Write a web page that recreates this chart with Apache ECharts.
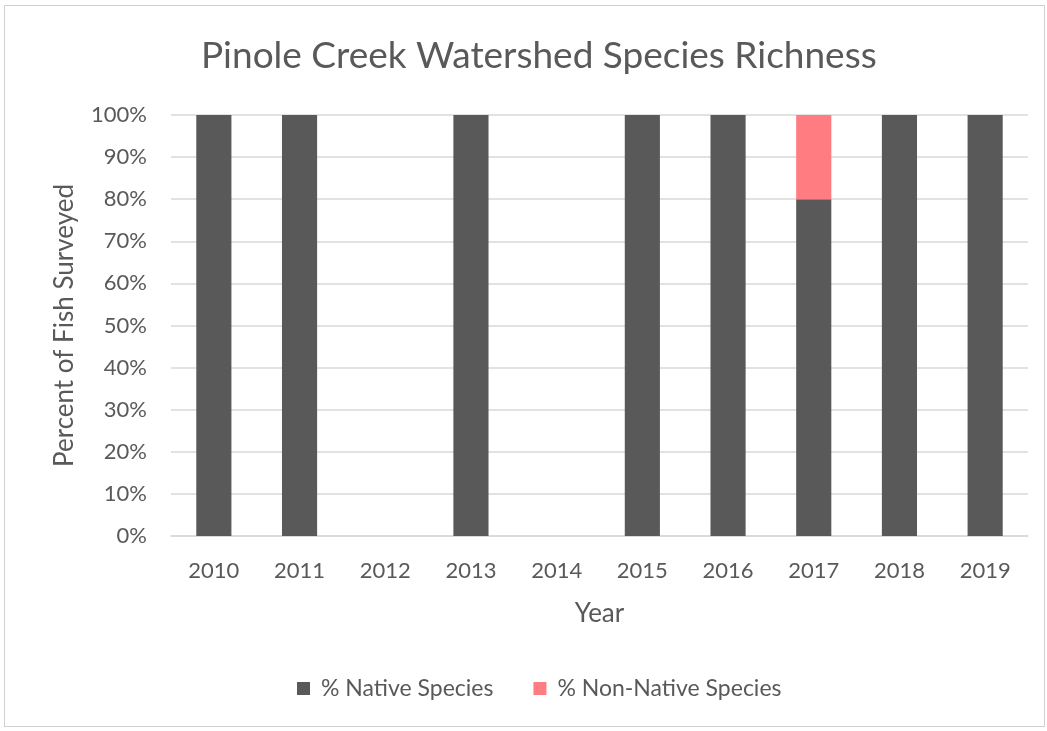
<!DOCTYPE html>
<html>
<head>
<meta charset="utf-8">
<script src="https://cdn.jsdelivr.net/npm/echarts@6/dist/echarts.min.js"></script>
<style>
html,body{margin:0;padding:0;background:#fff;}
#frame{position:absolute;left:4px;top:5px;width:1041px;height:722px;border:1px solid #d0d0d0;box-sizing:border-box;}
#chart{position:absolute;left:0;top:0;width:1047px;height:731px;}
</style>
</head>
<body>
<div id="frame"></div>
<div id="chart"></div>
<script>
const categories = ['2010','2011','2012','2013','2014','2015','2016','2017','2018','2019'];
const nativePct = [100,100,null,100,null,100,100,80,100,100];
const nonNativePct = [null,null,null,null,null,null,null,20,null,null];
const yTicks = [0,10,20,30,40,50,60,70,80,90,100];

const FONT = 'Lato';
const chart = echarts.init(document.getElementById('chart'));
chart.setOption({
  animation:false,
  backgroundColor:'transparent',
  title:{
    text:'Pinole Creek Watershed Species Richness',
    left:196, top:33,
    textStyle:{fontFamily:FONT,fontSize:37,fontWeight:'normal',color:'#595959'}
  },
  legend:{
    bottom:26, left:292,
    itemWidth:13,itemHeight:13,itemGap:40,
    icon:'rect',
    textStyle:{fontFamily:FONT,fontSize:23,color:'#595959',padding:[0,0,0,6]},
    data:['% Native Species','% Non-Native Species']
  },
  grid:{left:171,right:19,top:115,bottom:195},
  xAxis:{
    type:'category',data:categories,
    name:'Year',nameLocation:'middle',nameGap:65,
    nameTextStyle:{fontFamily:FONT,fontSize:26,color:'#595959'},
    axisLine:{show:true,lineStyle:{color:'#d9d9d9',width:1.5}},
    axisTick:{show:false},
    axisLabel:{fontFamily:FONT,fontSize:22,color:'#595959',margin:24}
  },
  yAxis:{
    type:'value',min:0,max:100,interval:10,
    name:'Percent of Fish Surveyed',nameLocation:'middle',nameGap:93,
    nameTextStyle:{fontFamily:FONT,fontSize:26,color:'#595959'},
    axisLine:{show:false},axisTick:{show:false},
    axisLabel:{fontFamily:FONT,fontSize:22,color:'#595959',margin:24,formatter:v=>v+'%'},
    splitLine:{lineStyle:{color:'#d9d9d9',width:1.5}}
  },
  series:[
    {name:'% Native Species',type:'bar',stack:'s',data:nativePct,barWidth:'41%',itemStyle:{color:'#595959'}},
    {name:'% Non-Native Species',type:'bar',stack:'s',data:nonNativePct,barWidth:'41%',itemStyle:{color:'#ff7c80'}}
  ]
});
</script>
</body>
</html>
